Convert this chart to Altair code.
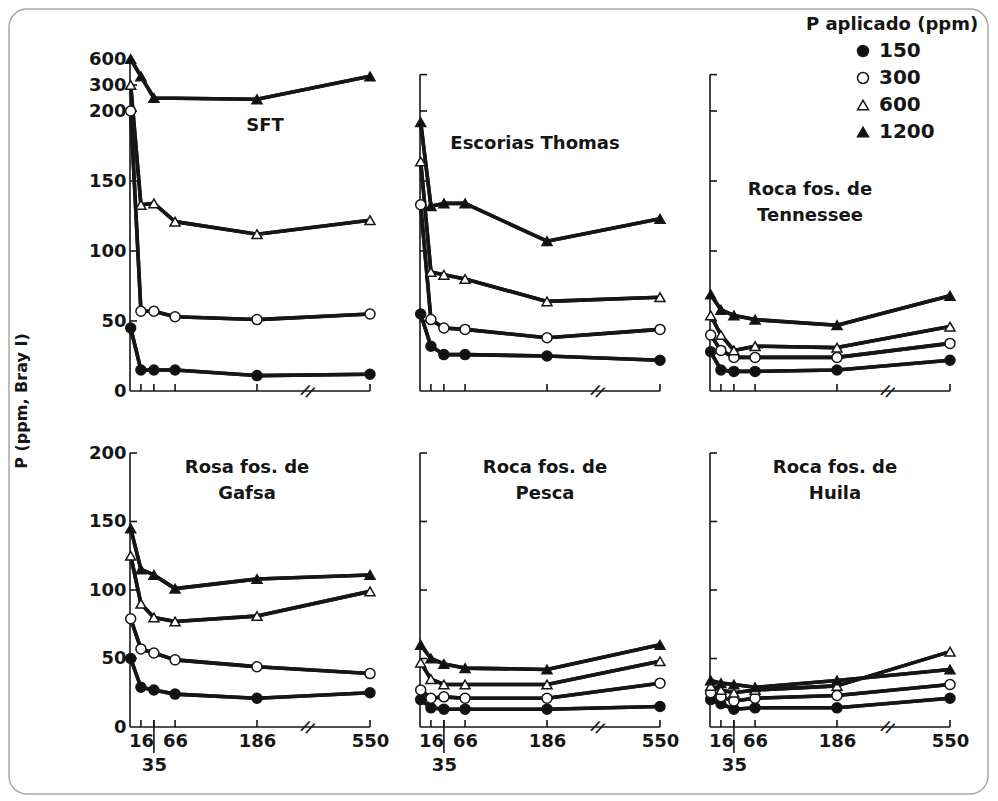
import altair as alt
import pandas as pd

# ---------------- data ----------------
days = [1, 16, 35, 66, 186, 550]
rates = ["150", "300", "600", "1200"]
rate_fill = ["#111111", "white", "white", "#111111"]
rate_shape = ["circle", "circle", "triangle-up", "triangle-up"]
x_tick_values = [16, 35, 66, 186, 550]
y_label_values_top = [0, 50, 100, 150, 200, 300, 600]
y_label_values_bot = [0, 50, 100, 150, 200]

sft_150 = [45, 15, 15, 15, 11, 12]
sft_300 = [200, 57, 57, 53, 51, 55]
sft_600 = [300, 133, 134, 121, 112, 122]
sft_1200 = [600, 400, 250, None, 245, 400]

esc_150 = [55, 32, 26, 26, 25, 22]
esc_300 = [133, 51, 45, 44, 38, 44]
esc_600 = [164, 85, 83, 80, 64, 67]
esc_1200 = [192, 132, 134, 134, 107, 123]

ten_150 = [28, 15, 14, 14, 15, 22]
ten_300 = [40, 29, 24, 24, 24, 34]
ten_600 = [54, 40, 29, 32, 31, 46]
ten_1200 = [69, 58, 54, 51, 47, 68]

gaf_150 = [50, 29, 27, 24, 21, 25]
gaf_300 = [79, 57, 54, 49, 44, 39]
gaf_600 = [125, 90, 80, 77, 81, 99]
gaf_1200 = [145, 115, 111, 101, 108, 111]

pes_150 = [20, 14, 13, 13, 13, 15]
pes_300 = [27, 21, 22, 21, 21, 32]
pes_600 = [47, 35, 31, 31, 31, 48]
pes_1200 = [60, 50, 46, 43, 42, 60]

hui_150 = [20, 17, 13, 14, 14, 21]
hui_300 = [25, 22, 19, 21, 23, 31]
hui_600 = [30, 27, 25, 27, 30, 55]
hui_1200 = [34, 32, 31, 29, 34, 42]

panel_titles = [
    ["SFT"],
    ["Escorias Thomas"],
    ["Roca fos. de", "Tennessee"],
    ["Rosa fos. de", "Gafsa"],
    ["Roca fos. de", "Pesca"],
    ["Roca fos. de", "Huila"],
]
panel_series = [
    [sft_150, sft_300, sft_600, sft_1200],
    [esc_150, esc_300, esc_600, esc_1200],
    [ten_150, ten_300, ten_600, ten_1200],
    [gaf_150, gaf_300, gaf_600, gaf_1200],
    [pes_150, pes_300, pes_600, pes_1200],
    [hui_150, hui_300, hui_600, hui_1200],
]
legend_title = "P aplicado (ppm)"
y_title = "P (ppm, Bray I)"

# ---------------- layout / style ----------------
INK = "#161616"
FONT = "DejaVu Sans"
W = 240
H_TOP = 332
H_BOT = 274
title_pos = [(135, 58), (115, 76), (100, 122), (117, 6), (125, 6), (125, 6)]
X_BREAK = 350
TOP_AXIS_END = 420

legend = alt.Legend(
    title=legend_title, orient="none", legendX=676, legendY=-43,
    titleFont=FONT, titleFontSize=18, titleFontWeight="bold", titleColor=INK,
    labelFont=FONT, labelFontSize=20, labelFontWeight="bold", labelColor=INK,
    symbolSize=120, symbolStrokeWidth=1.5, symbolStrokeColor=INK,
    rowPadding=7, titlePadding=7, labelOffset=6, symbolOffset=47,
)


def build_panel(idx):
    top = idx < 3
    left = idx % 3 == 0
    h = H_TOP if top else H_BOT
    xs = alt.Scale(domain=[0, 186, 550], range=[0, 127, W], nice=False, zero=False)
    if top:
        ys = alt.Scale(domain=[0, 200, 300, 600],
                       range=[H_TOP, H_TOP - 280, H_TOP - 306, 0], nice=False, zero=False)
    else:
        ys = alt.Scale(domain=[0, 200], range=[H_BOT, 0], nice=False, zero=False)

    rows = []
    for r, vals in zip(rates, panel_series[idx]):
        for d, v in zip(days, vals):
            if v is not None:
                rows.append({"rate": r, "day": d, "P": v})
    df = pd.DataFrame(rows)

    if left:
        yaxis = alt.Axis(values=y_label_values_top if top else y_label_values_bot,
                         domain=False, ticks=False, grid=False, title=None,
                         labelFont=FONT, labelFontSize=18, labelFontWeight="bold",
                         labelColor=INK, labelPadding=4, labelFlush=False, labelOverlap=False)
    else:
        yaxis = None
    if not top:
        xaxis = alt.Axis(values=x_tick_values, domain=False, ticks=False, grid=False, title=None,
                         labelExpr="datum.value == 35 ? ['', '35'] : datum.label",
                         labelFont=FONT, labelFontSize=18, labelFontWeight="bold",
                         labelColor=INK, labelPadding=5, labelLineHeight=24,
                         labelFlush=False, labelOverlap=False)
    else:
        xaxis = None

    def X(field):
        return alt.X(field, scale=xs, axis=xaxis)

    def Y(field):
        return alt.Y(field, scale=ys, axis=yaxis)

    if idx == 0:
        ytop = 600
        yticks = [50, 100, 150, 200, 300]
    elif top:
        ytop = TOP_AXIS_END
        yticks = [50, 100, 150, 200, TOP_AXIS_END]
    else:
        ytop = 200
        yticks = [50, 100, 150, 200]

    axis_df = pd.DataFrame({"x0": [0], "x1": [days[-1]], "y0": [0], "y1": [ytop]})
    one = pd.DataFrame({"k": [0]})

    layers = []
    layers.append(
        alt.Chart(df).mark_line(color=INK, strokeWidth=3.6, strokeJoin="round")
        .encode(x=X("day:Q"), y=Y("P:Q"), detail="rate:N")
    )
    layers.append(
        alt.Chart(axis_df).mark_rule(color=INK, strokeWidth=1.6).encode(
            x=X("x0:Q"), y=Y("y0:Q"), y2="y1:Q")
    )
    layers.append(
        alt.Chart(axis_df).mark_rule(color=INK, strokeWidth=1.6).encode(
            x=X("x0:Q"), x2="x1:Q", y=Y("y0:Q"))
    )
    layers.append(
        alt.Chart(pd.DataFrame({"t": yticks})).mark_rule(color=INK, strokeWidth=1.6).encode(
            y=Y("t:Q"), x=alt.value(0), x2=alt.value(7))
    )
    layers.append(
        alt.Chart(pd.DataFrame({"t": x_tick_values})).mark_rule(color=INK, strokeWidth=1.6).encode(
            x=X("t:Q"), y=alt.value(h), y2=alt.value(h - 7))
    )
    if not top:
        layers.append(
            alt.Chart(pd.DataFrame({"t": [x_tick_values[1]]})).mark_rule(color=INK, strokeWidth=1.6).encode(
                x=X("t:Q"), y=alt.value(h - 7), y2=alt.value(h + 26))
        )
    layers.append(
        alt.Chart(pd.DataFrame({"b": [X_BREAK], "y0": [0]})).mark_text(
            text="//", font=FONT, fontSize=15, fontWeight="bold", color=INK, angle=25)
        .encode(x=X("b:Q"), y=Y("y0:Q"))
    )
    layers.append(
        alt.Chart(df).mark_line(color=INK, strokeWidth=3.6, strokeJoin="round")
        .encode(x=X("day:Q"), y=Y("P:Q"), detail="rate:N")
    )
    layers.append(
        alt.Chart(df).mark_point(filled=True, size=100, strokeWidth=1.5, opacity=1)
        .encode(
            x=X("day:Q"), y=Y("P:Q"),
            shape=alt.Shape("rate:N", scale=alt.Scale(domain=rates, range=rate_shape), legend=legend),
            fill=alt.Fill("rate:N", scale=alt.Scale(domain=rates, range=rate_fill), legend=legend),
            stroke=alt.Stroke("rate:N", scale=alt.Scale(domain=rates, range=[INK] * len(rates)),
                              legend=legend),
        )
    )
    tx, ty = title_pos[idx]
    lines = panel_titles[idx]
    layers.append(
        alt.Chart(one).mark_text(text=lines if len(lines) > 1 else lines[0], font=FONT, fontSize=18,
                                 fontWeight="bold", color=INK, align="center", baseline="top",
                                 lineHeight=26)
        .encode(x=alt.value(tx), y=alt.value(ty))
    )
    if idx == 0:
        layers.append(
            alt.Chart(one).mark_rect(fillOpacity=0, stroke="#a8a8a8", strokeWidth=1.5, cornerRadius=18)
            .encode(x=alt.value(-121), x2=alt.value(858), y=alt.value(-50), y2=alt.value(735))
        )
        layers.append(
            alt.Chart(one).mark_text(text=y_title, angle=270, font=FONT, fontSize=16, fontWeight="bold",
                                     color=INK, align="center", baseline="middle")
            .encode(x=alt.value(-108), y=alt.value(342))
        )
    return alt.layer(*layers).properties(
        width=W, height=h, view=alt.ViewBackground(stroke="transparent", strokeOpacity=0)
    )


panels = [build_panel(i) for i in range(6)]

chart = (
    alt.concat(*panels, columns=3, spacing={"row": 62, "column": 50}, bounds="flush")
    .properties(padding=0)
    .configure_view(stroke="transparent", strokeWidth=0)
    .configure(font=FONT)
)

chart.save("out.html", embed_options={"renderer": "svg", "actions": False})
